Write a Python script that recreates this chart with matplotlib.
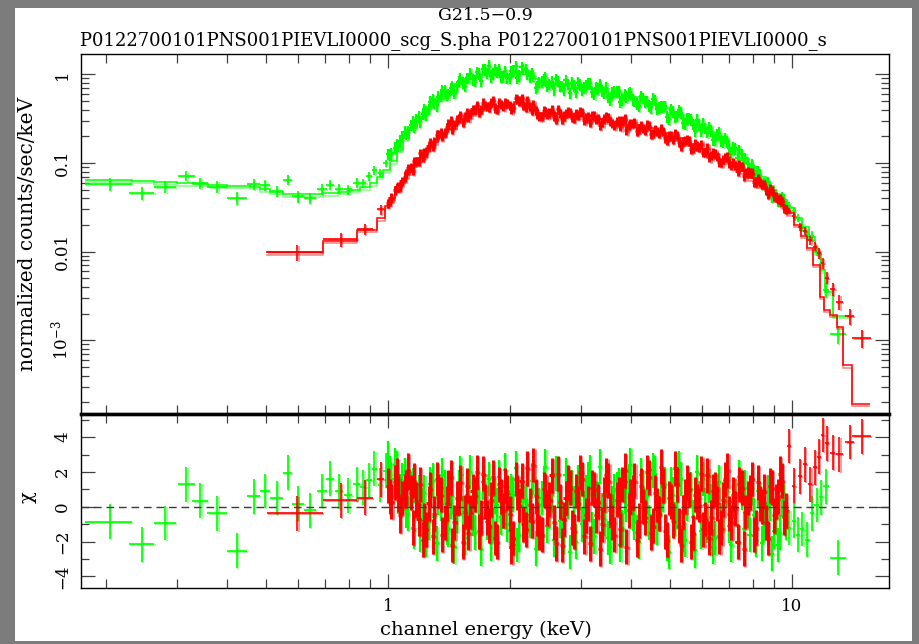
import numpy as np
import matplotlib
matplotlib.use("Agg")
import matplotlib.pyplot as plt
from matplotlib import transforms as mtransforms
from matplotlib.patches import Rectangle
from matplotlib.ticker import FixedLocator, NullFormatter, LogLocator, MultipleLocator

plt.rcParams['font.family'] = ['DejaVu Serif']
plt.rcParams['mathtext.fontset'] = 'dejavuserif'

# ---------------- text ----------------
title = "G21.5\u22120.9"
subtitle = "P0122700101PNS001PIEVLI0000_scg_S.pha P0122700101PNS001PIEVLI0000_s"
xlabel = "channel energy (keV)"
ylabel_top = "normalized counts/sec/keV"
ylabel_bottom = "\u03c7"
x_tick_vals = [1, 10]
x_tick_labels = ["1", "10"]
y_tick_vals = [1e-3, 1e-2, 0.1, 1]
y_tick_labels = [r"$10^{-3}$", "0.01", "0.1", "1"]
chi_tick_vals = [-4, -2, 0, 2, 4]
chi_tick_labels = ["\u22124", "\u22122", "0", "2", "4"]

# ================= green data set =================
g_low_E = [0.205, 0.246, 0.281, 0.317, 0.343, 0.378, 0.423, 0.465, 0.496, 0.530,
           0.564, 0.599, 0.641, 0.686, 0.718, 0.756, 0.798, 0.837, 0.869, 0.897,
           0.925, 0.955, 0.987]
g_low_hw = [0.027, 0.018, 0.018, 0.015, 0.015, 0.021, 0.024, 0.017, 0.014, 0.020,
            0.014, 0.022, 0.021, 0.020, 0.016, 0.018, 0.018, 0.017, 0.015, 0.014,
            0.014, 0.013, 0.013]
g_low_flux = [0.058, 0.046, 0.054, 0.072, 0.0595, 0.054, 0.040, 0.0575, 0.056, 0.048,
              0.064, 0.042, 0.040, 0.0505, 0.057, 0.051, 0.0505, 0.060, 0.059, 0.071,
              0.083, 0.077, 0.099]
g_low_rel = [0.17, 0.17, 0.16, 0.14, 0.15, 0.15, 0.17, 0.14, 0.14, 0.15,
             0.13, 0.15, 0.15, 0.14, 0.13, 0.13, 0.13, 0.12, 0.12, 0.11,
             0.11, 0.11, 0.10]
g_low_chi = [-0.86, -2.16, -0.94, 1.29, 0.34, -0.38, -2.53, 0.61, 0.90, 0.50,
             1.95, 0.17, -0.21, 0.90, 1.61, 0.89, 0.66, 1.29, 1.11, 1.53,
             2.18, 1.25, 2.07]

# dense 1-10 keV channels, first group
g_midA_E = [1.00, 1.02, 1.05, 1.07, 1.10, 1.12, 1.15, 1.17, 1.20, 1.23,
            1.26, 1.29, 1.32, 1.35, 1.38, 1.41, 1.44, 1.48, 1.51, 1.55,
            1.58, 1.62, 1.66, 1.70, 1.74, 1.78, 1.82, 1.86, 1.90, 1.95,
            2.00, 2.04, 2.09, 2.14, 2.19, 2.24, 2.29, 2.34, 2.40, 2.45,
            2.51, 2.57, 2.63, 2.69, 2.75, 2.82, 2.88, 2.95, 3.02, 3.09,
            3.16, 3.24, 3.31, 3.39, 3.47, 3.55, 3.63, 3.72, 3.80, 3.89,
            3.98, 4.07, 4.17, 4.27, 4.37, 4.47, 4.57, 4.68, 4.79, 4.90,
            5.01, 5.13, 5.25, 5.37, 5.50, 5.62, 5.75, 5.89, 6.03, 6.17,
            6.31, 6.46, 6.61, 6.76, 6.92, 7.08, 7.24, 7.41, 7.59, 7.76,
            7.94, 8.13, 8.32, 8.51, 8.71, 8.91, 9.12, 9.33, 9.55]
g_midA_flux = [0.126, 0.128, 0.162, 0.175, 0.225, 0.224, 0.293, 0.306, 0.293, 0.401,
               0.403, 0.519, 0.444, 0.568, 0.657, 0.600, 0.729, 0.733, 0.906, 0.743,
               0.905, 0.875, 1.058, 0.849, 1.137, 1.245, 1.015, 1.057, 0.939, 1.090,
               0.902, 1.101, 0.914, 1.192, 1.144, 0.944, 0.951, 0.734, 0.828, 0.929,
               0.773, 0.676, 0.835, 0.738, 0.856, 0.614, 0.750, 0.802, 0.670, 0.750,
               0.798, 0.608, 0.689, 0.651, 0.707, 0.520, 0.638, 0.640, 0.522, 0.564,
               0.631, 0.497, 0.439, 0.539, 0.500, 0.424, 0.510, 0.418, 0.430, 0.333,
               0.404, 0.333, 0.392, 0.284, 0.314, 0.310, 0.231, 0.269, 0.278, 0.222,
               0.230, 0.184, 0.220, 0.174, 0.175, 0.127, 0.146, 0.140, 0.100, 0.0986,
               0.0969, 0.0694, 0.0740, 0.0595, 0.0602, 0.0414, 0.0441, 0.0376, 0.0388]
g_midA_chi = [2.8, 1.6, 2.2, 0.9, 1.8, -0.4, 1.2, 0.3, -1.6, 0.8,
              -0.9, 1.5, -2.1, 0.2, 1.1, -1.3, 0.6, -0.5, 1.9, -1.8,
              0.4, -0.7, 1.3, -2.4, 0.9, 1.6, -1.1, 0.1, -0.6, 2.1,
              -1.4, 0.7, -2.2, 1.2, 0.3, -0.8, 1.7, -1.5, 0.5, 2.3,
              -0.3, -1.9, 1.0, -0.6, 1.8, -2.6, 0.2, 1.4, -1.0, 0.8,
              2.0, -1.7, 0.4, -0.2, 1.5, -2.3, 0.9, 1.2, -1.2, 0.1,
              2.4, -0.9, -2.0, 1.1, 0.6, -1.4, 1.9, -0.4, 0.7, -2.1,
              1.3, -0.7, 2.2, -1.6, 0.2, 1.0, -2.5, 0.5, 1.6, -1.1,
              0.3, -1.8, 1.4, -0.5, 0.9, -2.2, 0.6, 1.7, -1.3, -0.2,
              1.1, -1.9, 0.4, -1.0, 0.8, -2.7, -0.6, -1.5, 0.3]

# dense 1-10 keV channels, second group
g_midB_E = [1.01, 1.04, 1.06, 1.08, 1.11, 1.14, 1.16, 1.19, 1.22, 1.24,
            1.27, 1.30, 1.33, 1.36, 1.40, 1.43, 1.46, 1.50, 1.53, 1.57,
            1.60, 1.64, 1.68, 1.72, 1.76, 1.80, 1.84, 1.88, 1.93, 1.97,
            2.02, 2.07, 2.11, 2.16, 2.21, 2.27, 2.32, 2.37, 2.43, 2.48,
            2.54, 2.60, 2.66, 2.72, 2.79, 2.85, 2.92, 2.99, 3.06, 3.13,
            3.20, 3.28, 3.35, 3.43, 3.51, 3.59, 3.68, 3.76, 3.85, 3.94,
            4.03, 4.13, 4.22, 4.32, 4.42, 4.52, 4.63, 4.74, 4.85, 4.96,
            5.07, 5.19, 5.31, 5.44, 5.56, 5.69, 5.82, 5.96, 6.10, 6.24,
            6.39, 6.53, 6.68, 6.84, 7.00, 7.16, 7.33, 7.50, 7.67, 7.85,
            8.04, 8.22, 8.41, 8.61, 8.81, 9.02, 9.23, 9.44, 9.66]
g_midB_flux = [0.125, 0.148, 0.158, 0.201, 0.212, 0.268, 0.257, 0.333, 0.357, 0.351,
               0.491, 0.474, 0.559, 0.659, 0.582, 0.694, 0.612, 0.840, 0.802, 0.907,
               1.026, 0.846, 1.009, 1.147, 1.026, 0.947, 1.120, 1.136, 0.945, 0.907,
               1.090, 1.229, 0.968, 1.141, 1.023, 1.022, 0.695, 0.816, 0.867, 0.734,
               0.823, 0.884, 0.732, 0.674, 0.771, 0.802, 0.632, 0.766, 0.710, 0.784,
               0.632, 0.704, 0.772, 0.618, 0.551, 0.619, 0.637, 0.491, 0.589, 0.604,
               0.520, 0.465, 0.569, 0.490, 0.445, 0.528, 0.403, 0.432, 0.436, 0.311,
               0.378, 0.338, 0.367, 0.273, 0.319, 0.273, 0.308, 0.230, 0.247, 0.251,
               0.183, 0.212, 0.179, 0.190, 0.146, 0.148, 0.114, 0.125, 0.113, 0.0844,
               0.0820, 0.0808, 0.0580, 0.0571, 0.0548, 0.0433, 0.0372, 0.0411, 0.0337]
g_midB_chi = [1.9, 2.4, 0.6, 1.5, -0.2, 1.0, -1.4, 0.8, 0.1, -1.9,
              1.3, -0.6, 0.5, 1.8, -1.2, 0.3, -2.3, 1.1, -0.4, 0.7,
              2.0, -1.5, 0.2, 1.4, -0.9, -2.1, 0.6, 1.7, -0.3, -1.0,
              0.9, 2.2, -1.6, 0.4, -0.5, 1.5, -2.4, 0.1, 1.2, -1.1,
              0.7, 1.9, -0.8, -1.7, 0.3, 1.1, -2.0, 0.8, -0.1, 1.6,
              -1.3, 0.5, 2.3, -0.7, -1.8, 0.2, 1.0, -2.2, 0.6, 1.4,
              -0.4, -1.5, 1.8, 0.0, -0.9, 2.1, -1.2, 0.4, 1.3, -2.6,
              0.7, -0.3, 1.6, -1.9, 0.9, -0.6, 2.0, -1.4, 0.1, 1.2,
              -2.3, 0.5, -0.8, 1.5, -1.1, 0.3, -2.0, 0.8, 1.1, -1.6,
              -0.5, 0.9, -2.1, -0.7, 0.2, -1.4, -2.2, 0.4, -0.9]
g_mid_rel = 0.15

g_high_E = [9.85, 10.1, 10.35, 10.6, 10.9, 11.2, 11.5, 11.8, 12.15, 13.0]
g_high_hw = [0.12, 0.12, 0.13, 0.13, 0.15, 0.15, 0.15, 0.15, 0.20, 0.60]
g_high_flux = [0.033, 0.029, 0.024, 0.019, 0.0155, 0.0150, 0.0105, 0.0072, 0.0037, 0.00117]
g_high_rel = [0.10, 0.10, 0.11, 0.12, 0.13, 0.13, 0.14, 0.15, 0.20, 0.23]
g_high_chi = [-1.2, -0.8, -1.6, -1.28, -1.9, -0.38, 0.1, 0.55, 1.17, -2.93]

g_model_edges = [0.178, 0.233, 0.264, 0.300, 0.329, 0.358, 0.400, 0.456, 0.482, 0.510,
                 0.550, 0.640, 0.690, 0.750, 0.800, 0.850, 0.900, 0.940, 0.970, 1.010,
                 1.050, 1.090, 1.13, 1.18, 1.24, 1.30, 1.38, 1.46, 1.55, 1.65,
                 1.75, 1.85, 1.95, 2.05, 2.15, 2.25, 2.35, 2.6, 2.9, 3.2,
                 3.5, 3.8, 4.2, 4.6, 5.0, 5.4, 5.8, 6.2, 6.6, 7.0,
                 7.4, 7.8, 8.2, 8.6, 9.0, 9.4, 9.7, 10.2, 10.6, 11.0,
                 11.4, 11.8, 12.1, 12.6, 13.9]
g_model_vals = [0.065, 0.063, 0.0607, 0.059, 0.0585, 0.0565, 0.0553, 0.054, 0.0505,
                0.0475, 0.0445, 0.0443, 0.0455, 0.047, 0.050, 0.053, 0.059, 0.070,
                0.083, 0.105, 0.14, 0.19, 0.25, 0.33, 0.43, 0.53, 0.64, 0.77,
                0.88, 0.98, 1.08, 1.0, 0.98, 1.06, 1.08, 0.88, 0.80, 0.77,
                0.72, 0.67, 0.61, 0.55, 0.49, 0.42, 0.35, 0.30, 0.25, 0.215,
                0.18, 0.145, 0.115, 0.09, 0.07, 0.055, 0.045, 0.038, 0.031, 0.024,
                0.019, 0.0145, 0.0098, 0.0062, 0.0035, 0.0019]

# ================= red data set =================
r_low_E = [0.596, 0.765, 0.877, 0.959]
r_low_hw = [0.095, 0.075, 0.040, 0.020]
r_low_flux = [0.0099, 0.0137, 0.018, 0.030]
r_low_rel = [0.20, 0.17, 0.15, 0.13]
r_low_chi = [-0.38, 0.37, 0.52, 1.57]

r_midA_E = [1.01, 1.04, 1.06, 1.08, 1.11, 1.14, 1.16, 1.19, 1.22, 1.24,
            1.27, 1.30, 1.33, 1.36, 1.40, 1.43, 1.46, 1.50, 1.53, 1.57,
            1.60, 1.64, 1.68, 1.72, 1.76, 1.80, 1.84, 1.88, 1.93, 1.97,
            2.02, 2.07, 2.11, 2.16, 2.21, 2.27, 2.32, 2.37, 2.43, 2.48,
            2.54, 2.60, 2.66, 2.72, 2.79, 2.85, 2.92, 2.99, 3.06, 3.13,
            3.20, 3.28, 3.35, 3.43, 3.51, 3.59, 3.68, 3.76, 3.85, 3.94,
            4.03, 4.13, 4.22, 4.32, 4.42, 4.52, 4.63, 4.74, 4.85, 4.96,
            5.07, 5.19, 5.31, 5.44, 5.56, 5.69, 5.82, 5.96, 6.10, 6.24,
            6.39, 6.53, 6.68, 6.84, 7.00, 7.16, 7.33, 7.50, 7.67, 7.85,
            8.04, 8.22, 8.41, 8.61, 8.81, 9.02, 9.23, 9.44, 9.66]
r_midA_flux = [0.037, 0.049, 0.054, 0.062, 0.077, 0.089, 0.104, 0.105, 0.115, 0.134,
               0.170, 0.176, 0.211, 0.199, 0.253, 0.298, 0.274, 0.319, 0.290, 0.375,
               0.363, 0.406, 0.376, 0.479, 0.434, 0.481, 0.410, 0.485, 0.435, 0.472,
               0.405, 0.537, 0.503, 0.451, 0.509, 0.390, 0.394, 0.337, 0.387, 0.358,
               0.399, 0.315, 0.366, 0.340, 0.379, 0.325, 0.364, 0.381, 0.301, 0.334,
               0.346, 0.310, 0.265, 0.318, 0.327, 0.279, 0.297, 0.263, 0.315, 0.267,
               0.278, 0.230, 0.268, 0.236, 0.264, 0.215, 0.226, 0.245, 0.192, 0.206,
               0.186, 0.205, 0.156, 0.181, 0.178, 0.146, 0.156, 0.162, 0.132, 0.116,
               0.130, 0.118, 0.102, 0.116, 0.0996, 0.101, 0.081, 0.092, 0.079, 0.078,
               0.061, 0.067, 0.057, 0.049, 0.051, 0.042, 0.039, 0.037, 0.030]
r_midA_chi = [0.6, 1.4, 0.7, 0.5, 1.1, 0.8, 1.5, -0.7, -1.9, -1.3,
              1.0, -0.4, 0.9, -1.6, 0.2, 1.7, -0.9, 0.5, -2.0, 1.2,
              -0.3, 0.7, -1.4, 1.9, -0.6, 0.4, -1.8, 1.3, -0.2, 0.8,
              -2.3, 1.6, 0.1, -1.0, 2.2, -0.8, 0.6, -1.5, 1.0, -0.1,
              1.8, -2.1, 0.3, -0.7, 1.4, -1.2, 0.9, 2.0, -1.7, 0.2,
              1.1, -0.5, -2.4, 0.7, 1.5, -0.9, 0.4, -1.3, 2.1, -0.2,
              0.8, -1.9, 1.2, -0.6, 1.7, -1.1, 0.1, 2.3, -1.4, 0.5,
              -0.8, 1.3, -2.2, 0.6, 1.0, -1.5, 0.3, 1.9, -0.7, -1.8,
              0.9, 0.2, -1.2, 1.6, -0.4, 0.7, -2.0, 1.1, -0.3, 0.8,
              -1.6, 1.4, 0.0, -0.9, 1.2, -0.5, 0.6, 1.5, -0.2]

r_midB_E = [1.00, 1.02, 1.05, 1.07, 1.10, 1.12, 1.15, 1.17, 1.20, 1.23,
            1.26, 1.29, 1.32, 1.35, 1.38, 1.41, 1.44, 1.48, 1.51, 1.55,
            1.58, 1.62, 1.66, 1.70, 1.74, 1.78, 1.82, 1.86, 1.90, 1.95,
            2.00, 2.04, 2.09, 2.14, 2.19, 2.24, 2.29, 2.34, 2.40, 2.45,
            2.51, 2.57, 2.63, 2.69, 2.75, 2.82, 2.88, 2.95, 3.02, 3.09,
            3.16, 3.24, 3.31, 3.39, 3.47, 3.55, 3.63, 3.72, 3.80, 3.89,
            3.98, 4.07, 4.17, 4.27, 4.37, 4.47, 4.57, 4.68, 4.79, 4.90,
            5.01, 5.13, 5.25, 5.37, 5.50, 5.62, 5.75, 5.89, 6.03, 6.17,
            6.31, 6.46, 6.61, 6.76, 6.92, 7.08, 7.24, 7.41, 7.59, 7.76,
            7.94, 8.13, 8.32, 8.51, 8.71, 8.91, 9.12, 9.33, 9.55]
r_midB_flux = [0.0354, 0.0407, 0.0532, 0.0543, 0.0696, 0.0878, 0.0835, 0.104, 0.129, 0.130,
               0.154, 0.153, 0.208, 0.219, 0.222, 0.277, 0.243, 0.309, 0.347, 0.334,
               0.328, 0.401, 0.448, 0.405, 0.448, 0.430, 0.512, 0.400, 0.461, 0.477,
               0.449, 0.428, 0.519, 0.534, 0.429, 0.433, 0.452, 0.359, 0.333, 0.382,
               0.369, 0.341, 0.401, 0.311, 0.363, 0.373, 0.319, 0.346, 0.370, 0.322,
               0.287, 0.341, 0.321, 0.290, 0.335, 0.294, 0.264, 0.300, 0.304, 0.237,
               0.278, 0.286, 0.243, 0.248, 0.271, 0.214, 0.239, 0.215, 0.227, 0.182,
               0.202, 0.217, 0.173, 0.175, 0.186, 0.144, 0.164, 0.150, 0.131, 0.148,
               0.122, 0.127, 0.102, 0.111, 0.117, 0.0946, 0.0944, 0.0959, 0.0710, 0.0793,
               0.0778, 0.0603, 0.0607, 0.0580, 0.0446, 0.0490, 0.0417, 0.0401, 0.0308]
r_midB_chi = [1.2, 0.3, 1.8, -0.5, 0.9, 2.1, -1.2, 0.4, 1.3, -0.8,
              0.2, -1.7, 1.6, 0.7, -0.9, 1.1, -2.2, 0.5, 1.4, -0.3,
              -1.5, 0.9, 2.0, -0.6, 0.3, -1.1, 1.7, -2.0, 0.6, 1.2,
              -0.4, -1.8, 0.8, 1.5, -1.3, 0.1, 2.4, -0.7, -1.6, 0.9,
              0.4, -0.9, 1.9, -2.2, 0.5, 1.1, -1.4, 0.2, 1.6, -0.5,
              -2.1, 1.0, 0.3, -1.0, 1.8, -0.2, -1.6, 0.7, 1.3, -2.3,
              0.6, 1.5, -0.8, 0.0, 2.0, -1.5, 0.8, -0.4, 1.2, -1.9,
              0.3, 2.2, -1.1, -0.3, 1.4, -2.0, 0.7, 0.1, -1.3, 1.8,
              -0.6, 1.0, -1.7, 0.4, 2.1, -0.9, -0.1, 1.3, -2.4, 0.5,
              1.6, -1.2, 0.2, 0.9, -1.8, 1.1, 0.3, 1.9, -0.6]
r_mid_rel = 0.12

r_high_E = [9.83, 10.1, 10.45, 10.77, 11.1, 11.4, 11.66, 11.9, 12.2, 12.6, 13.1, 13.9, 14.9]
r_high_hw = [0.10, 0.10, 0.12, 0.12, 0.12, 0.12, 0.12, 0.12, 0.15, 0.20, 0.25, 0.35, 0.80]
r_high_flux = [0.029, 0.025, 0.019, 0.017, 0.0135, 0.0114, 0.0096, 0.0074, 0.0051,
               0.0038, 0.0027, 0.00188, 0.00106]
r_high_rel = [0.08, 0.09, 0.10, 0.10, 0.11, 0.12, 0.13, 0.14, 0.15, 0.17, 0.19, 0.20, 0.23]
r_high_chi = [3.49, 1.2, 1.75, 2.45, 1.30, 2.26, 2.87, 4.12, 3.64, 3.10, 3.01, 3.72, 4.05]

r_model_edges = [0.50, 0.69, 0.84, 0.94, 0.985, 1.005, 1.04, 1.075, 1.10, 1.14,
                 1.18, 1.22, 1.27, 1.33, 1.40, 1.48, 1.56, 1.65, 1.75, 1.85,
                 1.95, 2.05, 2.15, 2.25, 2.35, 2.6, 2.9, 3.2, 3.5, 3.8,
                 4.2, 4.6, 5.0, 5.4, 5.8, 6.2, 6.6, 7.0, 7.4, 7.8,
                 8.2, 8.6, 9.0, 9.4, 9.7, 10.1, 10.5, 10.9, 11.3, 11.7,
                 12.0, 12.4, 12.9, 13.4, 14.1, 15.6]
r_model_vals = [0.0098, 0.0133, 0.0176, 0.0238, 0.0327, 0.040, 0.050, 0.062, 0.078,
                0.095, 0.115, 0.14, 0.17, 0.21, 0.26, 0.31, 0.36, 0.41, 0.46,
                0.44, 0.45, 0.49, 0.46, 0.39, 0.365, 0.355, 0.335, 0.31, 0.29,
                0.27, 0.245, 0.215, 0.19, 0.165, 0.145, 0.125, 0.108, 0.095, 0.081,
                0.067, 0.056, 0.047, 0.039, 0.033, 0.027, 0.020, 0.015, 0.011, 0.0071,
                0.0031, 0.0022, 0.00193, 0.00143, 0.00052, 0.000192]

GREEN = "#00ff00"
RED = "#ff0000"

# ---------------- figure ----------------
fig = plt.figure(figsize=(9.2, 6.44), dpi=100)
fig.patch.set_facecolor("#7c7c7c")
fig.patches.append(Rectangle((15 / 920, 3 / 644), 897 / 920, 633 / 644,
                             transform=fig.transFigure, facecolor="white",
                             edgecolor="none", zorder=-5))

L = 80.7 / 920
W = (889 - 80.7) / 920
ax1 = fig.add_axes([L, (644 - 414) / 644, W, 360 / 644])
ax2 = fig.add_axes([L, (644 - 588) / 644, W, 174 / 644])
for ax in (ax1, ax2):
    ax.set_facecolor("none")


def shadow_tr(ax):
    return mtransforms.offset_copy(ax.transData, fig=fig, x=1.3, y=-1.0, units="dots")


def crosses(ax, x, y, xlo, xhi, ylo, yhi, color, lw, z):
    for tr, a, zz in ((shadow_tr(ax), 0.45, z), (ax.transData, 1.0, z + 0.1)):
        ax.vlines(x, ylo, yhi, colors=color, linewidths=lw, alpha=a, transform=tr, zorder=zz)
        ax.hlines(y, xlo, xhi, colors=color, linewidths=lw, alpha=a, transform=tr, zorder=zz)


def draw_points(E, hw, flux, rel, chi, color, lw, z):
    E = np.asarray(E, float); hw = np.asarray(hw, float)
    f = np.asarray(flux, float); c = np.asarray(chi, float)
    rel = np.asarray(rel, float)
    crosses(ax1, E, f, E - hw, E + hw, f * (1 - rel), f * (1 + rel), color, lw, z)
    crosses(ax2, E, c, E - hw, E + hw, c - 1, c + 1, color, lw, z)


def draw_dense(E, flux, rel, chi, color, lw, z):
    E = np.asarray(E, float)
    hw = np.gradient(E) / 2.0          # half of the channel spacing
    draw_points(E, hw, flux, rel, chi, color, lw, z)


def draw_model(edges, vals, color, z):
    ax1.stairs(vals, edges, baseline=None, color=color, lw=1.1, alpha=0.5,
               transform=mtransforms.offset_copy(ax1.transData, fig=fig, x=0, y=-2.5, units="dots"),
               zorder=z + 0.2)
    ax1.stairs(vals, edges, baseline=None, color=color, lw=1.1, zorder=z + 0.3)


# green first, red on top
draw_points(g_low_E, g_low_hw, g_low_flux, g_low_rel, g_low_chi, GREEN, 1.2, 2)
draw_dense(g_midA_E, g_midA_flux, g_mid_rel, g_midA_chi, GREEN, 1.6, 2)
draw_dense(g_midB_E, g_midB_flux, g_mid_rel, g_midB_chi, GREEN, 1.6, 2)
draw_points(g_high_E, g_high_hw, g_high_flux, g_high_rel, g_high_chi, GREEN, 1.2, 2)
draw_model(g_model_edges, g_model_vals, GREEN, 2)

draw_points(r_low_E, r_low_hw, r_low_flux, r_low_rel, r_low_chi, RED, 1.2, 3)
draw_dense(r_midA_E, r_midA_flux, r_mid_rel, r_midA_chi, RED, 2.1, 3)
draw_dense(r_midB_E, r_midB_flux, r_mid_rel, r_midB_chi, RED, 2.1, 3)
draw_points(r_high_E, r_high_hw, r_high_flux, r_high_rel, r_high_chi, RED, 1.2, 3)
draw_model(r_model_edges, r_model_vals, RED, 3)

ax2.axhline(0, color="#3a3a3a", lw=1.0, ls=(0, (5.5, 3.5)), zorder=10)

# ---------------- axes styling ----------------
for ax in (ax1, ax2):
    ax.set_xscale("log")
    ax.set_xlim(0.1735, 17.38)
    ax.xaxis.set_major_locator(FixedLocator(x_tick_vals))
    ax.xaxis.set_minor_locator(LogLocator(base=10, subs=np.arange(2, 10), numticks=30))
    ax.xaxis.set_minor_formatter(NullFormatter())
    ax.tick_params(which="both", direction="in", top=True, right=True,
                   width=0.9, color="#404040", labelsize=12)
    ax.tick_params(which="major", length=10)
    ax.tick_params(which="minor", length=5.5)
    ax.tick_params(axis="x", which="minor", length=6.5)
    for s in ax.spines.values():
        s.set_linewidth(1.0)
        s.set_color("black")

ax1.set_yscale("log")
ax1.set_ylim(1.476e-4, 1.69)
ax1.yaxis.set_major_locator(FixedLocator(y_tick_vals))
ax1.yaxis.set_minor_locator(LogLocator(base=10, subs=np.arange(2, 10), numticks=30))
ax1.yaxis.set_minor_formatter(NullFormatter())
ax1.set_yticklabels(y_tick_labels, rotation=90, va="center")
ax1.set_xticklabels([])
ax1.tick_params(axis="y", pad=7)
ax1.spines["bottom"].set_linewidth(2.4)

ax2.set_ylim(-4.67, 5.33)
ax2.yaxis.set_major_locator(FixedLocator(chi_tick_vals))
ax2.yaxis.set_minor_locator(MultipleLocator(1))
ax2.set_yticklabels(chi_tick_labels, rotation=90, va="center")
ax2.set_xticklabels(x_tick_labels)
ax2.tick_params(axis="y", pad=7)
ax2.tick_params(axis="x", pad=7)
ax2.spines["top"].set_linewidth(2.4)

# ---------------- labels ----------------
fig.text(485 / 920, 1 - 16 / 644, title, ha="center", va="center", fontsize=12.5)
fig.text(80 / 920, 1 - 41 / 644, subtitle, ha="left", va="center", fontsize=13)
fig.text(27.5 / 920, 1 - 234 / 644, ylabel_top, rotation=90, ha="center", va="center", fontsize=14.5)
fig.text(28 / 920, 1 - 497 / 644, ylabel_bottom, rotation=90, ha="center", va="center", fontsize=14)
fig.text(486 / 920, 1 - 630 / 644, xlabel, ha="center", va="center", fontsize=14)

fig.savefig("out.png", dpi=100, facecolor=fig.get_facecolor())
